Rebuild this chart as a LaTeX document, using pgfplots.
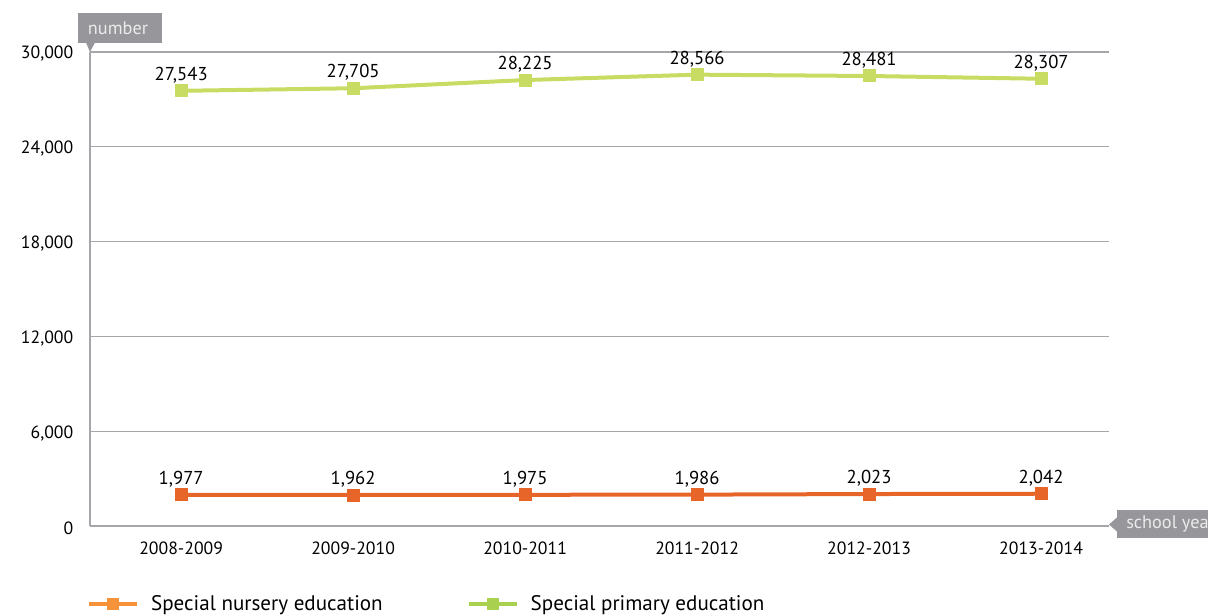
\documentclass[border=0pt]{standalone}
\usepackage{pgfplots}
\pgfplotsset{compat=1.18}
\usepackage{fontspec}
\setmainfont{PT Sans}
\definecolor{cOrange}{RGB}{232,101,42}
\definecolor{cGreen}{RGB}{200,220,100}
\definecolor{cOrangeL}{RGB}{246,146,58}
\definecolor{cGreenL}{RGB}{170,208,80}
\definecolor{cGrid}{RGB}{165,165,170}
\definecolor{cBox}{RGB}{150,150,155}
\definecolor{cBoxText}{RGB}{235,235,235}
\begin{document}
\begin{tikzpicture}[x=0.75pt,y=0.75pt]
\path[use as bounding box] (0,0) rectangle (1208,615);
\begin{axis}[
  at={(67.5pt,66.75pt)}, anchor=south west,
  scale only axis, width=764.25pt, height=355.5pt,
  xmin=-0.53, xmax=5.395, ymin=0, ymax=30000,
  xtick={0,1,2,3,4,5},
  xticklabels={2008-2009,2009-2010,2010-2011,2011-2012,2012-2013,2013-2014},
  ytick={0,6000,12000,18000,24000,30000},
  scaled y ticks=false,
  /pgf/number format/fixed,
  /pgf/number format/1000 sep={,},
  /pgf/number format/precision=0,
  /pgf/number format/assume math mode=true,
  tick label style={font=\fontsize{13.3}{15}\selectfont, text=black},
  yticklabel style={xshift=-9pt, yshift=-1.5pt},
  xticklabel style={yshift=-8.5pt},
  major tick length=0pt,
  axis x line*=bottom, axis y line*=left,
  axis line style={cGrid, line width=0.9pt, -},
  ymajorgrids, grid style={cGrid, line width=0.8pt},
  clip=false,
  nodes near coords,
  nodes near coords style={font=\fontsize{14}{16}\selectfont, text=black, anchor=base, yshift=7.8pt},
  legend style={at={(-0.007,-0.1646)}, anchor=west, draw=none, fill=none,
    font=\fontsize{15.8}{18}\selectfont,
    /tikz/every odd column/.append style={column sep=7pt},
    /tikz/every even column/.append style={column sep=61pt}},
  legend columns=2, legend cell align=left,
  legend image code/.code={\draw[mark repeat=2,mark phase=2,#1] plot coordinates {(0pt,0pt)(18pt,0pt)(36pt,0pt)};},
]
\addplot[cOrange, line width=3pt, mark=square*, mark size=4.5pt, mark options={solid, line width=0pt}, forget plot]
  coordinates {(0,1977)(1,1962)(2,1975)(3,1986)(4,2023)(5,2042)};
\addplot[cGreen, line width=3pt, mark=square*, mark size=4.5pt, mark options={solid, line width=0pt}, forget plot]
  coordinates {(0,27543)(1,27705)(2,28225)(3,28566)(4,28481)(5,28307)};
\addlegendimage{cOrangeL, line width=3pt, mark=square*, mark size=4pt, mark options={solid, line width=0pt}}
\addlegendentry{Special nursery education}
\addlegendimage{cGreenL, line width=3pt, mark=square*, mark size=4pt, mark options={solid, line width=0pt}}
\addlegendentry{Special primary education}
\end{axis}
% "number" callout
\fill[cBox] (78,572) rectangle (162,602);
\fill[cBox] (86,572.5) -- (95,572.5) -- (90,563) -- cycle;
\node[text=cBoxText, font=\fontsize{13.7}{15}\selectfont] at (118,587) {number};
% "school year" callout
\fill[cBox] (1117,77) rectangle (1240,105);
\fill[cBox] (1117.5,83) -- (1117.5,98) -- (1109,90.5) -- cycle;
\node[text=cBoxText, font=\fontsize{13.7}{15}\selectfont, anchor=west, inner sep=0pt] at (1126,91) {school year};
\end{tikzpicture}
\end{document}
